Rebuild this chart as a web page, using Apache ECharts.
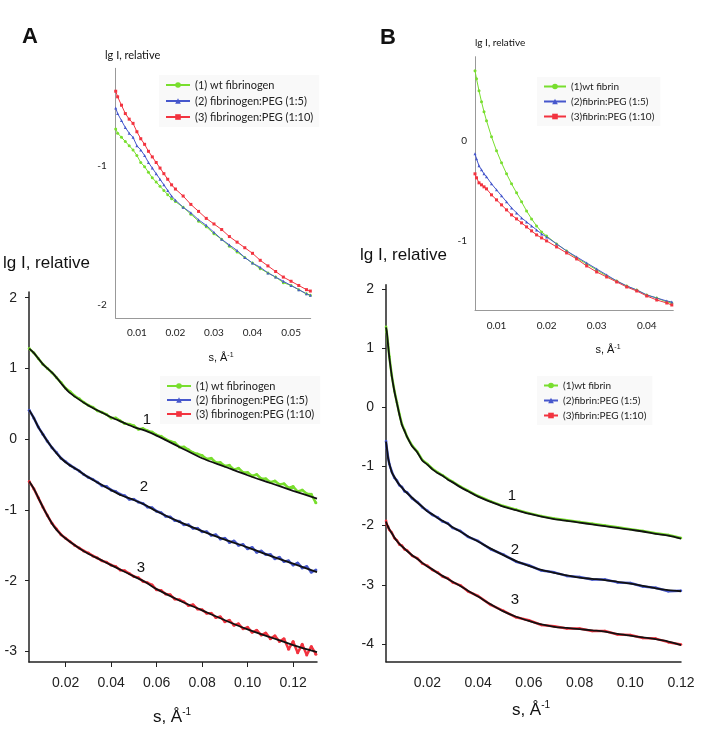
<!DOCTYPE html>
<html>
<head>
<meta charset="utf-8">
<script src="https://cdn.jsdelivr.net/npm/echarts@6/dist/echarts.min.js"></script>
<style>
html,body{margin:0;padding:0;background:#fff;}
#c{width:709px;height:730px;}
</style>
</head>
<body>
<div id="c"></div>
<script>
// ---------------- Panel A (fibrinogen) ----------------
const namesA = ['(1) wt fibrinogen', '(2) fibrinogen:PEG (1:5)', '(3) fibrinogen:PEG (1:10)'];
const namesB = ['(1)wt fibrin', '(2)fibrin:PEG (1:5)', '(3)fibrin:PEG (1:10)'];

// main A experimental points
const sDataA = [0.004,0.006,0.008,0.010,0.012,0.014,0.016,0.018,0.020,0.022,0.024,0.026,0.028,0.030,0.032,0.034,0.036,0.038,0.040,0.042,0.044,0.046,0.048,0.050,0.052,0.054,0.056,0.058,0.060,0.062,0.064,0.066,0.068,0.070,0.072,0.074,0.076,0.078,0.080,0.082,0.084,0.086,0.088,0.090,0.092,0.094,0.096,0.098,0.100,0.102,0.104,0.106,0.108,0.110,0.112,0.114,0.116,0.118,0.120,0.122,0.124,0.126,0.128,0.130];
const dataA1 = [1.28,1.22,1.14,1.06,1.00,0.94,0.87,0.80,0.72,0.67,0.61,0.57,0.52,0.48,0.45,0.40,0.38,0.35,0.30,0.30,0.26,0.22,0.21,0.19,0.14,0.15,0.12,0.10,0.06,0.04,0.00,-0.03,-0.05,-0.11,-0.11,-0.15,-0.19,-0.21,-0.23,-0.28,-0.27,-0.33,-0.33,-0.38,-0.37,-0.43,-0.41,-0.47,-0.47,-0.52,-0.50,-0.56,-0.56,-0.61,-0.59,-0.64,-0.63,-0.69,-0.67,-0.74,-0.72,-0.77,-0.78,-0.90];
const dataA2 = [0.41,0.30,0.17,0.07,-0.03,-0.12,-0.19,-0.27,-0.32,-0.37,-0.41,-0.45,-0.50,-0.54,-0.57,-0.61,-0.66,-0.67,-0.72,-0.74,-0.78,-0.80,-0.85,-0.85,-0.89,-0.91,-0.96,-0.97,-1.02,-1.04,-1.09,-1.10,-1.15,-1.16,-1.21,-1.21,-1.26,-1.26,-1.31,-1.31,-1.36,-1.35,-1.41,-1.40,-1.46,-1.44,-1.50,-1.49,-1.55,-1.53,-1.60,-1.58,-1.63,-1.63,-1.69,-1.67,-1.73,-1.72,-1.78,-1.75,-1.82,-1.80,-1.88,-1.85];
const dataA3 = [-0.60,-0.70,-0.83,-0.96,-1.08,-1.19,-1.27,-1.35,-1.40,-1.45,-1.50,-1.54,-1.58,-1.61,-1.65,-1.68,-1.72,-1.74,-1.78,-1.80,-1.85,-1.86,-1.90,-1.94,-1.96,-2.01,-2.03,-2.06,-2.13,-2.14,-2.19,-2.20,-2.26,-2.27,-2.30,-2.35,-2.34,-2.40,-2.41,-2.46,-2.46,-2.52,-2.51,-2.58,-2.56,-2.63,-2.61,-2.68,-2.66,-2.73,-2.70,-2.77,-2.74,-2.82,-2.78,-2.86,-2.82,-2.97,-2.86,-3.02,-2.90,-3.05,-2.93,-3.04];

// main A fitted curves
const sFitA = [0.004,0.006,0.008,0.010,0.012,0.015,0.018,0.021,0.025,0.030,0.035,0.040,0.045,0.050,0.055,0.060,0.070,0.080,0.090,0.100,0.110,0.120,0.1305];
const fitA1 = [1.28,1.22,1.14,1.06,1.00,0.91,0.79,0.68,0.58,0.475,0.39,0.31,0.24,0.17,0.12,0.05,-0.11,-0.27,-0.39,-0.51,-0.62,-0.73,-0.84];
const fitA2 = [0.41,0.30,0.17,0.07,-0.03,-0.16,-0.27,-0.35,-0.43,-0.54,-0.63,-0.72,-0.80,-0.86,-0.93,-1.02,-1.17,-1.30,-1.42,-1.53,-1.65,-1.76,-1.88];
const fitA3 = [-0.60,-0.70,-0.83,-0.96,-1.08,-1.24,-1.35,-1.43,-1.52,-1.62,-1.70,-1.78,-1.86,-1.94,-2.02,-2.12,-2.28,-2.42,-2.56,-2.69,-2.80,-2.91,-3.01];

// inset A
const sInA = [0.0045,0.005,0.006,0.007,0.008,0.009,0.010,0.011,0.012,0.013,0.014,0.015,0.016,0.017,0.018,0.019,0.020,0.022,0.024,0.026,0.028,0.030,0.032,0.034,0.036,0.038,0.040,0.042,0.044,0.046,0.048,0.050,0.052,0.054,0.055];
const inA1 = [-0.74,-0.77,-0.80,-0.83,-0.86,-0.89,-0.93,-0.98,-1.01,-1.05,-1.09,-1.12,-1.15,-1.18,-1.21,-1.24,-1.26,-1.30,-1.35,-1.40,-1.44,-1.49,-1.53,-1.58,-1.62,-1.66,-1.70,-1.74,-1.77,-1.80,-1.84,-1.86,-1.89,-1.92,-1.93];
const inA2 = [-0.59,-0.63,-0.68,-0.73,-0.77,-0.80,-0.86,-0.89,-0.93,-0.98,-1.02,-1.06,-1.10,-1.14,-1.18,-1.22,-1.25,-1.30,-1.34,-1.39,-1.43,-1.48,-1.53,-1.57,-1.61,-1.66,-1.70,-1.73,-1.77,-1.80,-1.83,-1.86,-1.89,-1.92,-1.93];
const inA3 = [-0.47,-0.51,-0.57,-0.63,-0.67,-0.70,-0.76,-0.81,-0.85,-0.90,-0.94,-0.98,-1.02,-1.06,-1.10,-1.14,-1.17,-1.22,-1.28,-1.33,-1.38,-1.42,-1.46,-1.51,-1.55,-1.59,-1.63,-1.68,-1.72,-1.76,-1.80,-1.83,-1.86,-1.89,-1.90];

// ---------------- Panel B (fibrin) ----------------
const sB = [0.0037,0.004,0.0045,0.005,0.006,0.007,0.008,0.009,0.010,0.011,0.012,0.014,0.016,0.018,0.020,0.022,0.024,0.026,0.028,0.030,0.033,0.036,0.040,0.045,0.050,0.055,0.060,0.065,0.070,0.075,0.080,0.085,0.090,0.095,0.100,0.105,0.110,0.115,0.120];
const fitB1 = [1.35,1.28,1.06,0.85,0.52,0.27,0.07,-0.13,-0.30,-0.40,-0.50,-0.66,-0.76,-0.90,-0.97,-1.05,-1.11,-1.16,-1.22,-1.27,-1.35,-1.42,-1.51,-1.60,-1.68,-1.74,-1.80,-1.85,-1.89,-1.92,-1.95,-1.98,-2.01,-2.04,-2.07,-2.10,-2.14,-2.17,-2.22];
const dataB1 = [1.36,1.27,1.07,0.86,0.53,0.28,0.08,-0.12,-0.29,-0.39,-0.50,-0.65,-0.75,-0.89,-0.96,-1.04,-1.10,-1.15,-1.21,-1.26,-1.34,-1.41,-1.50,-1.59,-1.67,-1.73,-1.79,-1.84,-1.88,-1.91,-1.94,-1.97,-2.00,-2.03,-2.06,-2.09,-2.13,-2.16,-2.21];
const fitB2 = [-0.58,-0.68,-0.85,-0.95,-1.10,-1.18,-1.25,-1.31,-1.36,-1.41,-1.45,-1.53,-1.61,-1.68,-1.76,-1.81,-1.87,-1.92,-1.97,-2.03,-2.10,-2.18,-2.27,-2.39,-2.50,-2.60,-2.68,-2.75,-2.80,-2.84,-2.88,-2.90,-2.92,-2.95,-2.98,-3.02,-3.06,-3.09,-3.11];
const dataB2 = [-0.57,-0.69,-0.84,-0.96,-1.09,-1.19,-1.24,-1.32,-1.35,-1.42,-1.44,-1.54,-1.60,-1.69,-1.75,-1.82,-1.86,-1.93,-1.96,-2.04,-2.09,-2.19,-2.26,-2.40,-2.49,-2.61,-2.67,-2.76,-2.79,-2.85,-2.87,-2.91,-2.91,-2.96,-2.97,-3.03,-3.05,-3.11,-3.10];
const fitB3 = [-1.93,-1.97,-2.02,-2.06,-2.13,-2.20,-2.26,-2.31,-2.35,-2.39,-2.43,-2.50,-2.56,-2.63,-2.69,-2.74,-2.80,-2.85,-2.90,-2.95,-3.02,-3.10,-3.20,-3.33,-3.45,-3.54,-3.61,-3.67,-3.71,-3.73,-3.75,-3.77,-3.79,-3.83,-3.86,-3.89,-3.92,-3.96,-4.02];
const dataB3 = [-1.92,-1.98,-2.01,-2.07,-2.12,-2.21,-2.25,-2.32,-2.34,-2.40,-2.42,-2.51,-2.55,-2.64,-2.68,-2.75,-2.79,-2.86,-2.89,-2.96,-3.01,-3.11,-3.19,-3.34,-3.44,-3.55,-3.60,-3.68,-3.70,-3.74,-3.74,-3.78,-3.78,-3.84,-3.85,-3.90,-3.91,-3.97,-4.01];

// inset B
const sInB = [0.0057,0.006,0.0065,0.007,0.0075,0.008,0.009,0.010,0.011,0.012,0.013,0.014,0.015,0.016,0.017,0.018,0.019,0.020,0.022,0.024,0.026,0.028,0.030,0.032,0.034,0.036,0.038,0.040,0.042,0.044,0.045];
const inB1 = [0.70,0.62,0.50,0.39,0.29,0.20,0.04,-0.10,-0.22,-0.33,-0.43,-0.52,-0.61,-0.70,-0.78,-0.85,-0.91,-0.95,-1.03,-1.10,-1.17,-1.23,-1.29,-1.35,-1.40,-1.45,-1.49,-1.54,-1.57,-1.61,-1.62];
const inB2 = [-0.13,-0.18,-0.25,-0.29,-0.33,-0.36,-0.43,-0.49,-0.55,-0.61,-0.67,-0.72,-0.77,-0.81,-0.85,-0.89,-0.93,-0.96,-1.03,-1.10,-1.16,-1.22,-1.28,-1.34,-1.40,-1.45,-1.49,-1.54,-1.57,-1.60,-1.61];
const inB3 = [-0.33,-0.37,-0.42,-0.44,-0.46,-0.48,-0.54,-0.59,-0.64,-0.69,-0.74,-0.78,-0.82,-0.86,-0.90,-0.94,-0.97,-1.00,-1.06,-1.12,-1.18,-1.25,-1.31,-1.36,-1.41,-1.46,-1.50,-1.55,-1.59,-1.62,-1.64];

// tick labels
const ticksMainX = [0.02,0.04,0.06,0.08,0.10,0.12];
const ticksMainAY = [-3,-2,-1,0,1,2];
const ticksMainBY = [-4,-3,-2,-1,0,1,2];
const ticksInAX = [0.01,0.02,0.03,0.04,0.05];
const ticksInAY = [-2,-1];
const ticksInBX = [0.01,0.02,0.03,0.04];
const ticksInBY = [-1,0];

const colors = ['#78de2e', '#4657cc', '#f2333f'];
const symbols = ['circle', 'triangle', 'rect'];

const pairs = (xs, ys) => xs.map((x, i) => [x, ys[i]]);
const f2 = v => v.toFixed(2);

function dataSeries(name, xs, ys, k, idx, lw, ss, sym) {
  return {
    name: name, type: 'line', xAxisIndex: idx, yAxisIndex: idx,
    data: pairs(xs, ys), symbol: sym || symbols[k], symbolSize: ss, showSymbol: true,
    lineStyle: {color: colors[k], width: lw}, itemStyle: {color: colors[k]},
    z: 2, silent: true
  };
}
function fitSeries(xs, ys, idx) {
  return {
    name: 'fit', type: 'line', xAxisIndex: idx, yAxisIndex: idx,
    data: pairs(xs, ys), showSymbol: false, smooth: 0.3,
    lineStyle: {color: '#111', width: 1.8}, z: 5, silent: true
  };
}

function mkX(idx, min, max, ticks, o) {
  return {
    gridIndex: idx, type: 'value', min: min, max: max,
    axisLine: {show: true, onZero: false, lineStyle: {color: o.lc, width: o.lw}},
    axisTick: {show: o.tick, customValues: ticks, length: 5, inside: false, lineStyle: {color: o.lc}},
    axisLabel: {customValues: ticks, formatter: f2, fontSize: o.fs, margin: o.m, color: '#222', fontFamily: o.ff},
    splitLine: {show: false}
  };
}
function mkY(idx, min, max, ticks, o) {
  return {
    gridIndex: idx, type: 'value', min: min, max: max,
    axisLine: {show: true, onZero: false, lineStyle: {color: o.lc, width: o.lw}},
    axisTick: {show: o.tick, customValues: ticks, length: 4, inside: false, lineStyle: {color: o.lc}},
    axisLabel: {customValues: ticks, formatter: v => String(v), fontSize: o.fs, margin: o.m, color: '#222', fontFamily: o.ff},
    splitLine: {show: false}
  };
}

const MAINF = 'Liberation Sans, Arial, sans-serif';
const SMALLF = 'Lato, Open Sans, sans-serif';

function legend(names, left, top, iw, fs, lh, gap) {
  return {
    data: names, orient: 'vertical', left: left, top: top, itemWidth: iw, itemHeight: 7,
    itemGap: gap, padding: [3, 6, 3, 6], backgroundColor: 'rgba(248,248,248,0.92)',
    selectedMode: false, textStyle: {fontSize: fs, lineHeight: lh, color: '#222', fontFamily: SMALLF}
  };
}

function txt(x, y, t, font, align) {
  return {type: 'text', x: x, y: y, z: 50, style: {text: t, font: font, fill: '#111', align: align || 'left', verticalAlign: 'middle'}};
}
function sTitle(x, y, fs) {
  return {type: 'text', x: x, y: y, z: 50, style: {
    text: '{a|s, Å}{b|-1}', align: 'center', verticalAlign: 'middle', fill: '#111',
    rich: {a: {fontSize: fs, fontFamily: MAINF, fill: '#111'}, b: {fontSize: Math.round(fs * 0.6), fontFamily: MAINF, fill: '#111', verticalAlign: 'top', padding: [0, 0, Math.round(fs * 0.5), 0]}}
  }};
}

const mainO = {lc: '#222', lw: 1.5, tick: true, fs: 14, m: 12, ff: MAINF};
const mainOx = {lc: '#222', lw: 1.5, tick: true, fs: 14, m: 14, ff: MAINF};
const mainOxB = {lc: '#222', lw: 1.5, tick: false, fs: 14, m: 14, ff: MAINF};
const inO = {lc: '#999', lw: 1, tick: false, fs: 10, m: 9, ff: SMALLF};
const inOyB = {lc: '#999', lw: 1, tick: false, fs: 10, m: 8, ff: SMALLF};
const inOxB = {lc: '#999', lw: 1, tick: false, fs: 10, m: 11, ff: SMALLF};

const option = {
  animation: false,
  backgroundColor: '#fff',
  grid: [
    {left: 29, top: 292, width: 288, height: 370},
    {left: 115.7, top: 68.3, width: 195, height: 250},
    {left: 386, top: 284.7, width: 295, height: 377},
    {left: 475, top: 56.7, width: 198.3, height: 253.3}
  ],
  xAxis: [
    mkX(0, 0.0039, 0.1305, ticksMainX, mainOx),
    mkX(1, 0.0045, 0.0551, ticksInAX, inO),
    mkX(2, 0.0037, 0.12, ticksMainX, mainOxB),
    mkX(3, 0.0057, 0.0453, ticksInBX, inOxB)
  ],
  yAxis: [
    mkY(0, -3.15, 2.08, ticksMainAY, mainO),
    mkY(1, -2.095, -0.306, ticksInAY, inO),
    mkY(2, -4.3, 2.07, ticksMainBY, mainO),
    mkY(3, -1.69, 0.84, ticksInBY, inOyB)
  ],
  legend: [
    legend(namesA, 159, 75, 24, 11, 14, 2),
    legend(namesA, 160, 376, 24, 11, 14, 0),
    legend(namesB, 537, 77, 22, 10, 13, 2),
    legend(namesB, 537, 376, 14, 10, 13, 2)
  ],
  series: [
    dataSeries(namesA[0], sInA, inA1, 0, 1, 1, 3),
    dataSeries(namesA[1], sInA, inA2, 1, 1, 1, 3),
    dataSeries(namesA[2], sInA, inA3, 2, 1, 1, 3),
    dataSeries(namesA[0], sDataA, dataA1, 0, 0, 2.5, 3, 'circle'),
    dataSeries(namesA[1], sDataA, dataA2, 1, 0, 2.5, 3, 'circle'),
    dataSeries(namesA[2], sDataA, dataA3, 2, 0, 2.5, 3, 'circle'),
    fitSeries(sFitA, fitA1, 0),
    fitSeries(sFitA, fitA2, 0),
    fitSeries(sFitA, fitA3, 0),
    dataSeries(namesB[0], sInB, inB1, 0, 3, 1, 3),
    dataSeries(namesB[1], sInB, inB2, 1, 3, 1, 3),
    dataSeries(namesB[2], sInB, inB3, 2, 3, 1, 3),
    dataSeries(namesB[0], sB, dataB1, 0, 2, 2.5, 2.5, 'circle'),
    dataSeries(namesB[1], sB, dataB2, 1, 2, 2.5, 2.5, 'circle'),
    dataSeries(namesB[2], sB, dataB3, 2, 2, 2.5, 2.5, 'circle'),
    fitSeries(sB, fitB1, 2),
    fitSeries(sB, fitB2, 2),
    fitSeries(sB, fitB3, 2)
  ],
  graphic: [
    txt(22, 37, 'A', 'bold 22px Liberation Sans, Arial, sans-serif'),
    txt(380, 38, 'B', 'bold 22px Liberation Sans, Arial, sans-serif'),
    txt(3, 263, 'lg I, relative', '17px Liberation Sans, Arial, sans-serif'),
    txt(360, 255, 'lg I, relative', '17px Liberation Sans, Arial, sans-serif'),
    txt(105, 55, 'lg I, relative', '11px Lato, Open Sans, sans-serif'),
    txt(475, 43, 'lg I, relative', '10px Lato, Open Sans, sans-serif'),
    txt(147, 420, '1', '15px Liberation Sans, Arial, sans-serif', 'center'),
    txt(144, 487, '2', '15px Liberation Sans, Arial, sans-serif', 'center'),
    txt(141, 568, '3', '15px Liberation Sans, Arial, sans-serif', 'center'),
    txt(512, 496, '1', '15px Liberation Sans, Arial, sans-serif', 'center'),
    txt(515, 550, '2', '15px Liberation Sans, Arial, sans-serif', 'center'),
    txt(515, 600, '3', '15px Liberation Sans, Arial, sans-serif', 'center'),
    sTitle(172, 717, 17),
    sTitle(531, 710, 17),
    sTitle(221, 358, 11),
    sTitle(608, 350, 11)
  ]
};

const chart = echarts.init(document.getElementById('c'), null, {renderer: 'canvas'});
chart.setOption(option);
</script>
</body>
</html>
